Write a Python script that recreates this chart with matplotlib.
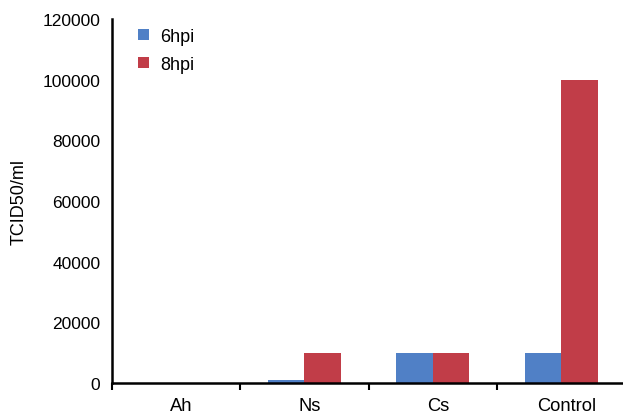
import numpy as np
import matplotlib.pyplot as plt
import matplotlib.transforms as mtransforms

plt.rcParams['font.family'] = ['Liberation Sans', 'DejaVu Sans']

# data
categories = ['Ah', 'Ns', 'Cs', 'Control']
hpi6 = [0, 1000, 10000, 10000]
hpi8 = [0, 10000, 10000, 100000]
series_names = ['6hpi', '8hpi']
yticks = [0, 20000, 40000, 60000, 80000, 100000, 120000]

fig = plt.figure(figsize=(6.23, 4.14), dpi=100)
ax = fig.add_axes([0.179, 0.072, 0.825, 0.88])

x = np.arange(len(categories)) + 0.5
w = 0.285
ax.bar(x - w/2, hpi6, w, color='#5080c6', label=series_names[0])
ax.bar(x + w/2, hpi8, w, color='#c13d48', label=series_names[1])

ax.set_xlim(0, len(categories))
ax.set_ylim(0, 120000)
ax.set_yticks(yticks)
ax.set_yticklabels([str(v) for v in yticks], fontsize=12.5)
ax.tick_params(axis='y', length=0, pad=8)

ax.set_xticks(x)
ax.set_xticklabels(categories, fontsize=13.2)
ax.tick_params(axis='x', which='major', length=0, pad=10)
ax.set_xticks(np.arange(len(categories) + 1), minor=True)
ax.tick_params(axis='x', which='minor', length=5, width=1.5, direction='out')
# category labels sit a little right of the bar pairs
shift = mtransforms.ScaledTranslation(5/100, 0, fig.dpi_scale_trans)
for lab in ax.get_xticklabels():
    lab.set_transform(lab.get_transform() + shift)

for s in ['top', 'right']:
    ax.spines[s].set_visible(False)
for s in ['left', 'bottom']:
    ax.spines[s].set_linewidth(1.8)

ax.set_ylabel('TCID50/ml', fontsize=13, labelpad=11)

ax.legend(loc='upper left', bbox_to_anchor=(0.02, 1.02), frameon=False,
          fontsize=13, handlelength=0.58, handleheight=0.58,
          handletextpad=0.65, labelspacing=0.6)

fig.savefig('out.png', dpi=100)
